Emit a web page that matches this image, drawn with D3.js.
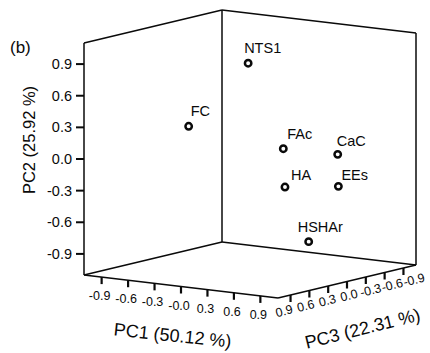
<!DOCTYPE html>
<html>
<head>
<meta charset="utf-8">
<script src="https://cdn.jsdelivr.net/npm/d3@7"></script>
<style>
  body { margin: 0; background: #fff; }
  svg { display: block; font-family: "Liberation Sans", Arial, sans-serif; }
</style>
</head>
<body>
<svg id="chart" width="430" height="353"></svg>
<script>
// samples and their scores on the first three components
const names = ["NTS1", "FC", "FAc", "CaC", "HA", "EEs", "HSHAr"];
const pc1 = [0.05, -0.34, 0.52, 0.71, 0.61, 0.86, 0.95];
const pc2 = [0.88, 0.30, 0.13, 0.01, -0.21, -0.25, -0.68];
const pc3 = [0.10, 0.50, 0.20, -0.40, 0.30, -0.20, 0.40];

const tickVals = [-0.9, -0.6, -0.3, 0.0, 0.3, 0.6, 0.9];
const pc1Labels = ["-0.9", "-0.6", "-0.3", "-0.0", "0.3", "0.6", "0.9"];
const pc2Labels = ["-0.9", "-0.6", "-0.3", "0.0", "0.3", "0.6", "0.9"];
const pc3Labels = ["-0.9", "-0.6", "-0.3", "0.0", "0.3", "0.6", "0.9"];

const titles = { x: "PC1 (50.12 %)", y: "PC2 (25.92 %)", z: "PC3 (22.31 %)", panel: "(b)" };

// where each sample name sits relative to its marker
const labelNudge = {
  NTS1: [-4, -10], FC: [2, -10], FAc: [4, -10], CaC: [-1, -8],
  HA: [6, -7], EEs: [3, -6], HSHAr: [-11, -10]
};

const svg = d3.select("#chart");
const lo = -1.1, hi = 1.1;
const s = d3.scaleLinear().domain([lo, hi]).range([0, 1]);

// oblique box: back-bottom corner, PC1 edge, PC3 edge, height
const O = [222, 242], E1 = [194, 23], E3 = [-138, 33], H = 232;
function proj(a, b, c) {
  const u = s(a), v = s(b), w = s(c);
  return [O[0] + u * E1[0] + w * E3[0], O[1] + u * E1[1] + w * E3[1] - v * H];
}

const line = d3.line();
const ink = "#0a0a0a";

function seg(p, q, w) {
  svg.append("path").attr("d", line([p, q]))
    .attr("stroke", ink).attr("stroke-width", w || 1.5).attr("fill", "none");
}

// box edges
seg(proj(lo, lo, hi), proj(lo, hi, hi));   // left wall front vertical
seg(proj(lo, hi, hi), proj(lo, hi, lo));   // left wall top
seg(proj(lo, hi, lo), proj(lo, lo, lo));   // back vertical
seg(proj(lo, hi, lo), proj(hi, hi, lo));   // right wall top
seg(proj(hi, hi, lo), proj(hi, lo, lo));   // right vertical
seg(proj(lo, lo, lo), proj(lo, lo, hi));   // floor back-left
seg(proj(lo, lo, lo), proj(hi, lo, lo));   // floor back-right
seg(proj(lo, lo, hi), proj(hi, lo, hi));   // PC1 axis
seg(proj(hi, lo, hi), proj(hi, lo, lo));   // PC3 axis

// PC2 ticks on the left vertical
tickVals.forEach((t, i) => {
  const p = proj(lo, t, hi);
  seg([p[0] - 8, p[1]], p, 2);
  svg.append("text").attr("x", p[0] - 12).attr("y", p[1] + 5)
    .attr("text-anchor", "end").attr("font-size", 14.5).attr("fill", ink)
    .text(pc2Labels[i]);
});

// PC1 ticks along front-left floor edge
tickVals.forEach((t, i) => {
  const p = proj(t, lo, hi);
  seg(p, [p[0], p[1] + 7], 2.2);
  svg.append("text").attr("x", p[0] - 2).attr("y", p[1] + 23)
    .attr("text-anchor", "middle").attr("font-size", 12.5).attr("fill", ink)
    .text(pc1Labels[i]);
});

// PC3 ticks along front-right floor edge (labels fan out a bit wider)
tickVals.forEach((t, i) => {
  const p = proj(hi, lo, t);
  seg(p, [p[0], p[1] + 7], 2.2);
  const q = proj(hi, lo, t * 1.15);
  svg.append("text")
    .attr("transform", `translate(${q[0] + 3},${q[1] + 18}) rotate(-14)`)
    .attr("text-anchor", "middle").attr("font-size", 12.5).attr("fill", ink)
    .text(pc3Labels[i]);
});

// axis titles
const m1 = proj(0, lo, hi);
svg.append("text")
  .attr("transform", `translate(${m1[0] - 9},${m1[1] + 55}) rotate(6)`)
  .attr("text-anchor", "middle").attr("font-size", 18).attr("fill", ink)
  .text(titles.x);

const m3 = proj(hi, lo, 0);
svg.append("text")
  .attr("transform", `translate(${m3[0] + 17},${m3[1] + 53}) rotate(-14)`)
  .attr("text-anchor", "middle").attr("font-size", 18).attr("fill", ink)
  .text(titles.z);

svg.append("text")
  .attr("transform", "translate(35,140) rotate(-90)")
  .attr("text-anchor", "middle").attr("font-size", 16.5).attr("fill", ink)
  .text(titles.y);

svg.append("text").attr("x", 10).attr("y", 53)
  .attr("font-size", 17).attr("fill", ink).text(titles.panel);

// samples
const pts = names.map((n, i) => ({ name: n, p: proj(pc1[i], pc2[i], pc3[i]) }));

svg.selectAll("circle.pt").data(pts).enter().append("circle")
  .attr("class", "pt")
  .attr("cx", d => d.p[0]).attr("cy", d => d.p[1]).attr("r", 3.2)
  .attr("fill", "#fff").attr("stroke", ink).attr("stroke-width", 2.5);

svg.selectAll("text.lbl").data(pts).enter().append("text")
  .attr("class", "lbl")
  .attr("x", d => d.p[0] + labelNudge[d.name][0])
  .attr("y", d => d.p[1] + labelNudge[d.name][1])
  .attr("font-size", 14.5).attr("fill", ink)
  .text(d => d.name);
</script>
</body>
</html>
